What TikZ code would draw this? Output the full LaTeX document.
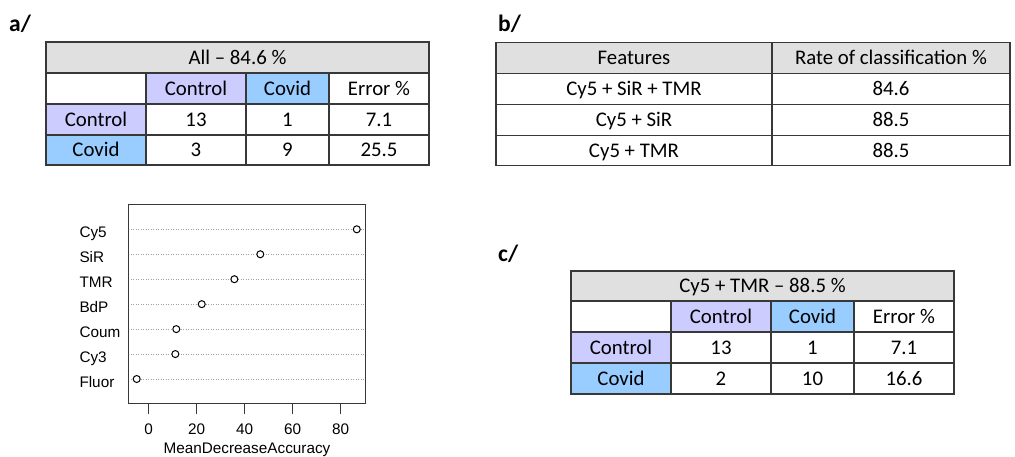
\documentclass[tikz,border=0pt]{standalone}
\usepackage{fontspec}
\setmainfont{Carlito}
\newfontfamily\plotfont{Liberation Sans}
\definecolor{lav}{HTML}{CCCCFF}
\definecolor{sky}{HTML}{99CCFF}
\definecolor{hdr}{HTML}{E0E0E0}
\definecolor{bord}{HTML}{383838}
\definecolor{dotg}{HTML}{A0A0A0}
\newcommand{\tcell}[7]{%
  \path[draw=bord, line width=1.35pt, fill=#6] (#2,#3) rectangle (#4,#5);
  \node[celltxt] (#1) at ({(#2+#4)/2},{(#3+#5)/2}) {#7};}
\tikzset{
  celltxt/.style={inner sep=0pt, text height=13pt, text depth=0pt, font=\fontsize{20.8}{24}\selectfont, text=black},
  panellab/.style={anchor=base west, inner sep=0pt, font=\fontsize{23.5}{26}\selectfont\bfseries},
  plotlab/.style={anchor=base west, inner sep=0pt, font=\plotfont\fontsize{15.3}{17}\selectfont},
  ticklab/.style={anchor=base, inner sep=0pt, font=\plotfont\fontsize{15.3}{17}\selectfont},
  pt/.style={circle, draw=black, line width=1pt, fill=white, inner sep=0pt, minimum size=7pt},
}
\begin{document}
\begin{tikzpicture}[x=1pt,y=-1pt]
\useasboundingbox (0,0) rectangle (1015,456);
\fill[white] (0,0) rectangle (1015,456);
% labels
\node[panellab] (la) at (9,31.7) {a/};
\node[panellab] (lb) at (498,31.7) {b/};
\node[panellab] (lc) at (498,261.7) {c/};
% table a
\tcell{ah}{46}{42}{429}{73}{hdr}{All -- 84.6 \%}
\tcell{a00}{46}{73}{146}{104}{white}{}
\tcell{a01}{146}{73}{246}{104}{lav}{Control}
\tcell{a02}{246}{73}{329}{104}{sky}{Covid}
\tcell{a03}{329}{73}{429}{104}{white}{Error \%}
\tcell{a10}{46}{104}{146}{135}{lav}{Control}
\tcell{a11}{146}{104}{246}{135}{white}{13}
\tcell{a12}{246}{104}{329}{135}{white}{1}
\tcell{a13}{329}{104}{429}{135}{white}{7.1}
\tcell{a20}{46}{135}{146}{165}{sky}{Covid}
\tcell{a21}{146}{135}{246}{165}{white}{3}
\tcell{a22}{246}{135}{329}{165}{white}{9}
\tcell{a23}{329}{135}{429}{165}{white}{25.5}
% table b
\tcell{bh0}{496}{42.5}{772}{73.3}{hdr}{Features}
\tcell{bh1}{772}{42.5}{1010}{73.3}{hdr}{Rate of classification \%}
\tcell{b10}{496}{73.3}{772}{104.3}{white}{Cy5 + SiR + TMR}
\tcell{b11}{772}{73.3}{1010}{104.3}{white}{84.6}
\tcell{b20}{496}{104.3}{772}{135.3}{white}{Cy5 + SiR}
\tcell{b21}{772}{104.3}{1010}{135.3}{white}{88.5}
\tcell{b30}{496}{135.3}{772}{165.7}{white}{Cy5 + TMR}
\tcell{b31}{772}{135.3}{1010}{165.7}{white}{88.5}
% table c
\tcell{ch}{571}{271}{954}{301}{hdr}{Cy5 + TMR -- 88.5 \%}
\tcell{c00}{571}{301}{671}{332}{white}{}
\tcell{c01}{671}{301}{771}{332}{lav}{Control}
\tcell{c02}{771}{301}{854}{332}{sky}{Covid}
\tcell{c03}{854}{301}{954}{332}{white}{Error \%}
\tcell{c10}{571}{332}{671}{363}{lav}{Control}
\tcell{c11}{671}{332}{771}{363}{white}{13}
\tcell{c12}{771}{332}{854}{363}{white}{1}
\tcell{c13}{854}{332}{954}{363}{white}{7.1}
\tcell{c20}{571}{363}{671}{394}{sky}{Covid}
\tcell{c21}{671}{363}{771}{394}{white}{2}
\tcell{c22}{771}{363}{854}{394}{white}{10}
\tcell{c23}{854}{363}{954}{394}{white}{16.6}
% dot plot
\def\xz{148.7}\def\sc{2.4}
\foreach \lab/\v [count=\i from 0] in {Cy5/86.7, SiR/46.5, TMR/35.7, BdP/22.1, Coum/11.5, Cy3/11.1, Fluor/-5}{
  \pgfmathsetmacro\yy{229.3+24.95*\i}
  \draw[dotg, line width=0.8pt, dash pattern=on 1pt off 1.5pt] (128.3,\yy) -- (365.7,\yy);
  \node[plotlab] (lab\i) at (79.3,\yy+8.3) {\lab};
  \node[pt] (p\i) at ({\xz+\sc*\v},\yy) {};
}
\draw[bord, line width=1.2pt] (128.3,204.7) rectangle (365.7,403.3);
\foreach \t in {0,20,40,60,80}{
  \draw[bord, line width=1.2pt] ({\xz+\sc*\t},403.3) -- ({\xz+\sc*\t},413.5);
  \node[ticklab] (t\t) at ({\xz+\sc*\t},434) {\t};
}
\node[ticklab] (xl) at (247,453) {MeanDecreaseAccuracy};
\end{tikzpicture}
\end{document}
